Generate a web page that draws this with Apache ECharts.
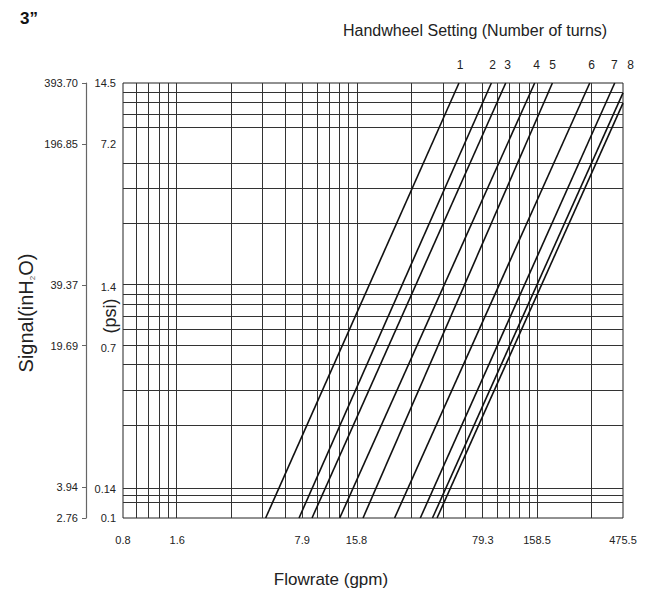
<!DOCTYPE html>
<html>
<head>
<meta charset="utf-8">
<script src="https://cdn.jsdelivr.net/npm/echarts@6/dist/echarts.min.js"></script>
<style>
html,body{margin:0;padding:0;background:#fff;}
#c{width:661px;height:596px;}
</style>
</head>
<body>
<div id="c"></div>
<script>
// ---------- data ----------
// Handwheel setting curves (straight lines on log-log): start at 0.1 psi, end at top/right edge
const curveNames      = ['1', '2', '3', '4', '5', '6', '7', '8', '8b'];
const flowAtStart     = [4.95, 7.58, 8.95, 12.75, 17.17, 25.7, 35.7, 41.7, 44.2];   // gpm
const psiAtStart      = [0.1, 0.1, 0.1, 0.1, 0.1, 0.1, 0.1, 0.1, 0.1];              // psi
const flowAtEnd       = [58.5, 88.5, 106.3, 153.9, 193, 311, 427.8, 475.5, 475.5];  // gpm
const psiAtEnd        = [14.5, 14.5, 14.5, 14.5, 14.5, 14.5, 14.5, 12.96, 11.52];    // psi

// Handwheel labels above the plot
const turnLabelText   = ['1', '2', '3', '4', '5', '6', '7', '8'];
const turnLabelFlow   = [59.4, 90.0, 109.0, 157.9, 193.7, 318.8, 425.1, 524.7];     // gpm

// Axis ranges
const flowMin = 0.8, flowMax = 475.5;
const psiMin = 0.1, psiMax = 14.5;
const inH2OMin = 2.76, inH2OMax = 393.70;

// Tick labels
const flowTickValues  = [0.8, 1.6, 7.9, 15.8, 79.3, 158.5, 475.5];
const flowTickText    = ['0.8', '1.6', '7.9', '15.8', '79.3', '158.5', '475.5'];
const psiTickValues   = [0.1, 0.14, 0.7, 1.4, 7.2, 14.5];
const psiTickText     = ['0.1', '0.14', '0.7', '1.4', '7.2', '14.5'];
const inH2OTickValues = [2.76, 3.94, 19.69, 39.37, 196.85, 393.70];
const inH2OTickText   = ['2.76', '3.94', '19.69', '39.37', '196.85', '393.70'];

// Grid lines (flow grid = 0.06..30 L/s in gpm, pressure grid in psi)
const flowGridLines = [0.951, 1.110, 1.268, 1.427, 1.585, 3.170, 4.755, 6.340, 7.925, 9.510,
                       11.10, 12.68, 14.27, 15.85, 31.70, 47.55, 63.40, 79.25, 95.10, 110.95,
                       126.8, 142.65, 158.5, 317.0];
const psiGridLines  = [13.05, 11.60, 10.15, 8.70, 5.80, 4.35, 2.90, 1.450, 1.305, 1.160,
                       1.015, 0.870, 0.725, 0.580, 0.435, 0.290, 0.145, 0.1305, 0.116];

// ---------- chart ----------
const FONT = '"Liberation Sans", Arial, Helvetica, sans-serif';
function pick(values, texts, v) {
  let best = 0, bd = Infinity;
  for (let i = 0; i < values.length; i++) {
    const d = Math.abs(Math.log(values[i]) - Math.log(v));
    if (d < bd) { bd = d; best = i; }
  }
  return texts[best];
}

const chart = echarts.init(document.getElementById('c'), null, {renderer: 'svg'});

const curveSeries = curveNames.map((name, i) => ({
  name: name,
  type: 'line',
  xAxisIndex: 0, yAxisIndex: 0,
  data: [[flowAtStart[i], psiAtStart[i]], [flowAtEnd[i], psiAtEnd[i]]],
  showSymbol: false, symbol: 'none',
  lineStyle: {color: '#111', width: 1.6},
  silent: true, z: 5
}));

const gridSeries = {
  name: 'grid', type: 'line', data: [], silent: true, z: 1,
  markLine: {
    silent: true, symbol: ['none', 'none'], animation: false,
    label: {show: false},
    lineStyle: {type: 'solid', color: '#333', width: 1},
    emphasis: {disabled: true},
    data: flowGridLines.map(v => ({xAxis: v})).concat(psiGridLines.map(v => ({yAxis: v})))
  }
};

const turnLabelSeries = {
  name: 'turns', type: 'custom', xAxisIndex: 0, yAxisIndex: 0, clip: false, silent: true, z: 6,
  data: turnLabelFlow.map(v => [v, psiMax]),
  renderItem: function (params, api) {
    const p = api.coord([api.value(0), api.value(1)]);
    return {
      type: 'text', x: p[0], y: p[1] - 18,
      style: {text: turnLabelText[params.dataIndex], fontSize: 12, fontFamily: FONT,
              fill: '#222', align: 'center', verticalAlign: 'middle'}
    };
  }
};

const labelStyle = {fontSize: 11, color: '#222', fontFamily: FONT, hideOverlap: false,
                    showMinLabel: true, showMaxLabel: true};

chart.setOption({
  animation: false,
  backgroundColor: '#fff',
  grid: {left: 123, right: 38, top: 83, bottom: 78, show: true, borderColor: '#222',
         borderWidth: 1, containLabel: false, outerBoundsMode: 'none'},
  xAxis: [{
    type: 'log', logBase: 10, min: flowMin, max: flowMax,
    axisLine: {show: false}, axisTick: {show: false}, splitLine: {show: false},
    axisLabel: Object.assign({}, labelStyle, {
      customValues: flowTickValues, margin: 16,
      formatter: v => pick(flowTickValues, flowTickText, v)
    })
  }],
  yAxis: [{
    type: 'log', logBase: 10, min: psiMin, max: psiMax, position: 'left',
    axisLine: {show: false}, axisTick: {show: false}, splitLine: {show: false},
    axisLabel: Object.assign({}, labelStyle, {
      customValues: psiTickValues, margin: 7,
      formatter: v => pick(psiTickValues, psiTickText, v)
    })
  }, {
    type: 'log', logBase: 10, min: inH2OMin, max: inH2OMax, position: 'left', offset: 37,
    axisLine: {show: true, lineStyle: {color: '#666', width: 1.2}},
    axisTick: {show: true, customValues: inH2OTickValues, length: 4, lineStyle: {color: '#666'}},
    splitLine: {show: false},
    axisLabel: Object.assign({}, labelStyle, {
      customValues: inH2OTickValues, margin: 8,
      formatter: v => pick(inH2OTickValues, inH2OTickText, v)
    })
  }],
  graphic: [
    {type: 'text', x: 20, y: 10, style: {text: '3\u201d', font: 'bold 17px ' + FONT, fill: '#111'}},
    {type: 'text', x: 343, y: 30, style: {text: 'Handwheel Setting (Number of turns)',
      font: '16px ' + FONT, fill: '#222', verticalAlign: 'middle'}},
    {type: 'text', x: 331, y: 579, style: {text: 'Flowrate (gpm)', font: '17px ' + FONT,
      fill: '#222', align: 'center', verticalAlign: 'middle'}},
    {type: 'text', x: 26, y: 313, rotation: Math.PI / 2, style: {
      text: '{a|Signal(inH}{s|2}{a|O)}', align: 'center', verticalAlign: 'middle',
      rich: {a: {fontSize: 20, fontFamily: FONT, fill: '#222', color: '#222'},
             s: {fontSize: 8, fontFamily: FONT, fill: '#555', color: '#555', verticalAlign: 'bottom'}}}},
    {type: 'text', x: 110, y: 316, rotation: Math.PI / 2, style: {text: '(psi)',
      font: '18px ' + FONT, fill: '#222', align: 'center', verticalAlign: 'middle'}}
  ],
  series: [gridSeries].concat(curveSeries, [turnLabelSeries])
});
</script>
</body>
</html>
